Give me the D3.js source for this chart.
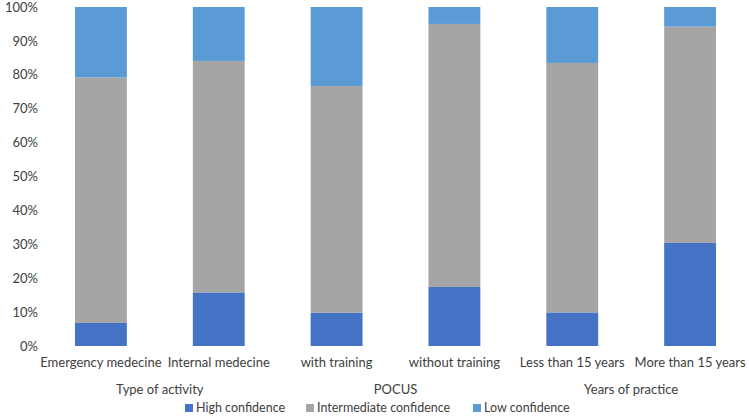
<!DOCTYPE html>
<html>
<head>
<meta charset="utf-8">
<script src="https://cdn.jsdelivr.net/npm/d3@7"></script>
<style>
  body { margin: 0; background: #fff; }
  text { font-family: Lato, "Open Sans", sans-serif; fill: #404040; }
</style>
</head>
<body>
<div id="chart"></div>
<script>
var categories = ["Emergency medecine", "Internal medecine", "with training", "without training", "Less than 15 years", "More than 15 years"];
var groups = ["Type of activity", "POCUS", "Years of practice"];
var seriesNames = ["High confidence", "Intermediate confidence", "Low confidence"];
var high = [6.8, 15.8, 9.8, 17.4, 9.9, 30.4];
var intermediate = [72.4, 68.3, 66.9, 77.6, 73.6, 63.8];
var low = [20.8, 15.9, 23.3, 5.0, 16.5, 5.8];
var yTicks = [0, 10, 20, 30, 40, 50, 60, 70, 80, 90, 100];
var colors = ["#4472C4", "#A5A5A5", "#5B9BD5"];

var width = 749, height = 416;
var margin = { left: 42, right: 0, top: 7, bottom: 70 };
var innerW = width - margin.left - margin.right;
var innerH = height - margin.top - margin.bottom;

var svg = d3.select("#chart").append("svg")
  .attr("width", width)
  .attr("height", height);

var g = svg.append("g")
  .attr("transform", "translate(" + margin.left + "," + margin.top + ")");

var x = d3.scaleBand()
  .domain(categories)
  .range([0, innerW])
  .paddingInner(0.56)
  .paddingOuter(0.28);

var y = d3.scaleLinear()
  .domain([0, 100])
  .range([innerH, 0]);

// stacked data
var rows = categories.map(function (c, i) {
  return { cat: c, high: high[i], intermediate: intermediate[i], low: low[i] };
});
var stack = d3.stack().keys(["high", "intermediate", "low"]);
var layers = stack(rows);

g.selectAll("g.layer")
  .data(layers)
  .enter().append("g")
  .attr("class", "layer")
  .attr("fill", function (d, i) { return colors[i]; })
  .selectAll("rect")
  .data(function (d) { return d; })
  .enter().append("rect")
  .attr("x", function (d) { return x(d.data.cat); })
  .attr("width", x.bandwidth())
  .attr("y", function (d) { return y(d[1]); })
  .attr("height", function (d) { return y(d[0]) - y(d[1]); });

// Y axis
var yAxis = d3.axisLeft(y)
  .tickValues(yTicks)
  .tickSize(0)
  .tickPadding(4)
  .tickFormat(function (d) { return d + "%"; });

g.append("g")
  .attr("class", "y axis")
  .call(yAxis)
  .call(function (a) { a.select(".domain").remove(); })
  .selectAll("text")
  .attr("font-size", "13px")
  .style("font-family", "Lato, 'Open Sans', sans-serif")
  .attr("fill", "#404040");

// X axis
var xAxis = d3.axisBottom(x).tickSize(0).tickPadding(12);
g.append("g")
  .attr("class", "x axis")
  .attr("transform", "translate(0," + innerH + ")")
  .call(xAxis)
  .call(function (a) { a.select(".domain").remove(); })
  .selectAll("text")
  .attr("font-size", "13px")
  .style("font-family", "Lato, 'Open Sans', sans-serif")
  .attr("fill", "#404040");

// group labels
g.selectAll("text.group")
  .data(groups)
  .enter().append("text")
  .attr("class", "group")
  .attr("x", function (d, i) {
    var a = x(categories[i * 2]) + x.bandwidth() / 2;
    var b = x(categories[i * 2 + 1]) + x.bandwidth() / 2;
    return (a + b) / 2;
  })
  .attr("y", innerH + 48)
  .attr("text-anchor", "middle")
  .attr("font-size", "13px")
  .text(function (d) { return d; });

// legend
var legendX = [185, 306, 473];
var legend = svg.selectAll("g.legend")
  .data(seriesNames)
  .enter().append("g")
  .attr("class", "legend")
  .attr("transform", function (d, i) { return "translate(" + legendX[i] + ",404)"; });

legend.append("rect")
  .attr("width", 8)
  .attr("height", 8)
  .attr("fill", function (d, i) { return colors[i]; });

legend.append("text")
  .attr("x", 11)
  .attr("y", 8)
  .attr("font-size", "12.5px")
  .text(function (d) { return d; });
</script>
</body>
</html>
